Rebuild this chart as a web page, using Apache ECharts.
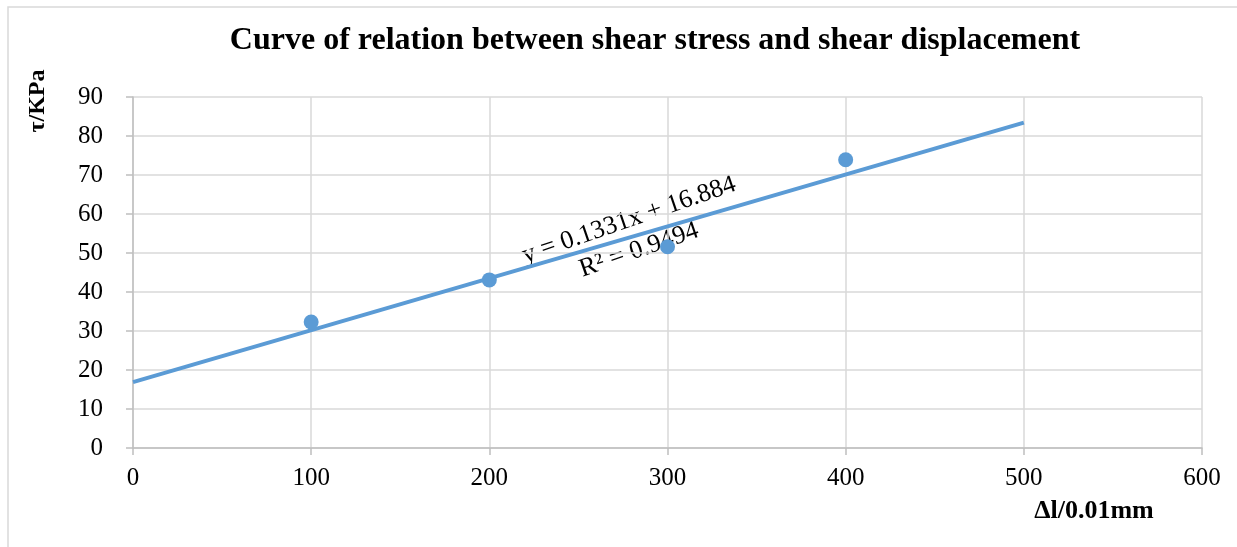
<!DOCTYPE html>
<html>
<head>
<meta charset="utf-8">
<script src="https://cdn.jsdelivr.net/npm/echarts@6/dist/echarts.min.js"></script>
<style>
  html, body { margin: 0; padding: 0; background: #ffffff; }
  #chart { width: 1237px; height: 547px; }
</style>
</head>
<body>
<div id="chart"></div>
<script>
// Measured shear displacement (0.01 mm) and shear stress (kPa)
const displacement = [100, 200, 300, 400];
const shearStress = [32.3, 43.1, 51.6, 73.9];

// Linear fit shown on the chart
const fitSlope = 0.1331;
const fitIntercept = 16.884;
const fitR2 = 0.9494;
const fitRange = [0, 500];

const xTicks = { min: 0, max: 600, interval: 100 };
const yTicks = { min: 0, max: 90, interval: 10 };

const titleText = 'Curve of relation between shear stress and shear displacement';
const xName = '\u0394l/0.01mm';
const yName = '\u03c4/KPa';

const serif = '"Liberation Serif", "Times New Roman", serif';
const blue = '#5b9bd5';

const pointData = displacement.map((x, i) => [x, shearStress[i]]);
const fitData = fitRange.map(x => [x, fitSlope * x + fitIntercept]);

const chart = echarts.init(document.getElementById('chart'), null, { renderer: 'canvas' });

const eqAngle = 19 * Math.PI / 180;

chart.setOption({
  backgroundColor: '#ffffff',
  animation: false,
  title: {
    text: titleText,
    left: 650,
    textAlign: 'center',
    top: 20,
    textStyle: { fontFamily: serif, fontWeight: 'bold', fontSize: 32, color: '#000' }
  },
  grid: { left: 133, top: 97, width: 1069, height: 351, containLabel: false },
  xAxis: {
    type: 'value',
    min: xTicks.min, max: xTicks.max, interval: xTicks.interval,
    axisLine: { show: true, lineStyle: { color: '#bfbfbf', width: 1.5 } },
    axisTick: { show: true, length: 7, lineStyle: { color: '#bfbfbf', width: 1.5 } },
    splitLine: { show: true, lineStyle: { color: '#d9d9d9', width: 1.5 } },
    axisLabel: { margin: 18, fontFamily: serif, fontSize: 25, color: '#000' }
  },
  yAxis: {
    type: 'value',
    min: yTicks.min, max: yTicks.max, interval: yTicks.interval,
    axisLine: { show: true, lineStyle: { color: '#bfbfbf', width: 1.5 } },
    axisTick: { show: true, length: 7, lineStyle: { color: '#bfbfbf', width: 1.5 } },
    splitLine: { show: true, lineStyle: { color: '#d9d9d9', width: 1.5 } },
    axisLabel: { margin: 30, fontFamily: serif, fontSize: 25, color: '#000' }
  },
  graphic: [
    {
      type: 'rect', silent: true, z: -1,
      shape: { x: 8, y: 7, width: 1300, height: 600 },
      style: { fill: 'none', stroke: '#d9d9d9', lineWidth: 1.5 }
    },
    {
      type: 'text', x: 38, y: 101, rotation: Math.PI / 2,
      style: { text: yName, fontFamily: serif, fontWeight: 'bold', fontSize: 24, fill: '#000',
               align: 'center', verticalAlign: 'middle' }
    },
    {
      type: 'text', x: 1094, y: 511,
      style: { text: xName, fontFamily: serif, fontWeight: 'bold', fontSize: 26, fill: '#000',
               align: 'center', verticalAlign: 'middle' }
    },
    {
      type: 'text', x: 629, y: 220, rotation: eqAngle, z: 0,
      style: { text: 'y = ' + fitSlope + 'x + ' + fitIntercept, fontFamily: serif, fontSize: 26, fill: '#000',
               align: 'center', verticalAlign: 'middle' }
    },
    {
      type: 'text', x: 639, y: 250, rotation: eqAngle, z: 0,
      style: { text: 'R\u00b2 = ' + fitR2, fontFamily: serif, fontSize: 26, fill: '#000',
               align: 'center', verticalAlign: 'middle' }
    }
  ],
  series: [
    {
      type: 'scatter',
      data: pointData,
      symbol: 'circle',
      symbolSize: 15,
      itemStyle: { color: blue, opacity: 1 },
      z: 4
    },
    {
      type: 'line',
      data: fitData,
      symbol: 'none',
      lineStyle: { color: blue, width: 4 },
      z: 3
    }
  ]
});
</script>
</body>
</html>
